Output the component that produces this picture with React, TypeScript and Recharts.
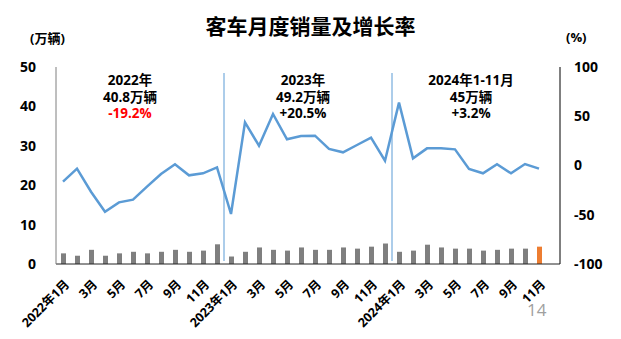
import React from 'react';
import { ComposedChart, Bar, Line, XAxis, YAxis, ReferenceLine, Cell } from 'recharts';

const months = [
  '2022年1月', '2022年2月', '2022年3月', '2022年4月', '2022年5月', '2022年6月',
  '2022年7月', '2022年8月', '2022年9月', '2022年10月', '2022年11月', '2022年12月',
  '2023年1月', '2023年2月', '2023年3月', '2023年4月', '2023年5月', '2023年6月',
  '2023年7月', '2023年8月', '2023年9月', '2023年10月', '2023年11月', '2023年12月',
  '2024年1月', '2024年2月', '2024年3月', '2024年4月', '2024年5月', '2024年6月',
  '2024年7月', '2024年8月', '2024年9月', '2024年10月', '2024年11月', '2024年12月',
];

// 月度销量（万辆）
const sales = [
  2.7, 2.1, 3.6, 2.1, 2.7, 3.1, 2.7, 3.1, 3.6, 3.1, 3.4, 5.0,
  1.9, 3.1, 4.2, 3.6, 3.4, 4.2, 3.6, 3.6, 4.2, 3.9, 4.4, 5.2,
  3.1, 3.4, 4.9, 4.2, 3.9, 3.9, 3.4, 3.6, 3.9, 3.9, 4.4, null,
];

// 同比增长率（%）
const growth = [
  -16.4, -3.2, -26.6, -46.9, -37.4, -34.7, -21.5, -8.6, 1.2, -10.0, -7.9, -1.9,
  -49.2, 43.8, 20.1, 52.3, 26.6, 29.9, 30.3, 16.8, 13.4, 20.8, 28.3, 4.9,
  63.8, 7.3, 17.4, 17.4, 16.4, -3.5, -7.9, 1.2, -7.9, 1.5, -3.2, null,
];

const leftTicks = [0, 10, 20, 30, 40, 50];
const rightTicks = [-100, -50, 0, 50, 100];
const yearStarts = ['2023年1月', '2024年1月'];

const annotations = [
  { x: 130, lines: ['2022年', '40.8万辆', '-19.2%'], red: true },
  { x: 303, lines: ['2023年', '49.2万辆', '+20.5%'], red: false },
  { x: 471, lines: ['2024年1-11月', '45万辆', '+3.2%'], red: false },
];

const data = months.map((m, i) => ({ month: m, sales: sales[i], growth: growth[i] }));

const font = "'Open Sans', 'Noto Sans CJK SC', sans-serif";
const gray = '#7f7f7f';
const orange = '#ed7d31';
const blue = '#5b9bd5';

const shortLabel = (m: string) => (m.endsWith('年1月') ? m : m.split('年')[1]);

const MonthTick = ({ x, y, payload }: any) => {
  const ax = x + 4;
  const ay = y + 10;
  return (
    <text
      x={ax}
      y={ay}
      dy="0.35em"
      textAnchor="end"
      transform={`rotate(-45, ${ax}, ${ay})`}
      fontSize={12.5}
      fontWeight="bold"
      fill="#000"
      fontFamily={font}
    >
      {shortLabel(payload.value)}
    </text>
  );
};

const SepLine = (p: any) => (
  <line x1={p.x1} y1={p.y1 - 3} x2={p.x2} y2={p.y2 + 6} stroke={blue} strokeWidth={1} />
);

export default function App() {
  return (
    <div style={{ position: 'relative', width: 621, height: 339, background: '#fff', fontFamily: font }}>
      <style>{'body{margin:0}'}</style>
      <div style={{ position: 'absolute', left: 0, width: 621, top: 10, textAlign: 'center', fontSize: 21, fontWeight: 'bold', color: '#000' }}>
        客车月度销量及增长率
      </div>
      <div style={{ position: 'absolute', left: 30, top: 28, fontSize: 13, fontWeight: 'bold' }}>(万辆)</div>
      <div style={{ position: 'absolute', left: 566, top: 28, fontSize: 13, fontWeight: 'bold' }}>(%)</div>
      <ComposedChart width={621} height={339} data={data} margin={{ top: 67, right: 0, bottom: 0, left: 0 }}>
        <XAxis
          dataKey="month"
          interval={1}
          height={75}
          tickLine={false}
          axisLine={{ stroke: '#222' }}
          tick={<MonthTick />}
        />
        <YAxis
          domain={[0, 50]}
          ticks={leftTicks}
          width={56}
          tickLine={false}
          tickSize={0}
          tickMargin={20}
          axisLine={{ stroke: gray }}
          tick={{ fontSize: 14, fontWeight: 'bold', fill: '#000', fontFamily: font }}
        />
        <YAxis
          yAxisId="r"
          orientation="right"
          domain={[-100, 100]}
          ticks={rightTicks}
          width={61}
          tickLine={false}
          tickSize={0}
          tickMargin={14}
          axisLine={{ stroke: '#000' }}
          tick={{ fontSize: 14, fontWeight: 'bold', fill: '#000', fontFamily: font, textAnchor: 'start' }}
        />
        {yearStarts.map((m) => (
          <ReferenceLine key={m} x={m} position="start" stroke={blue} shape={SepLine} />
        ))}
        <Bar dataKey="sales" barSize={5} isAnimationActive={false}>
          {data.map((d, i) => (
            <Cell key={i} fill={i === sales.length - 2 ? orange : gray} />
          ))}
        </Bar>
        <Line
          yAxisId="r"
          dataKey="growth"
          type="linear"
          stroke={blue}
          strokeWidth={2.5}
          dot={false}
          isAnimationActive={false}
        />
      </ComposedChart>
      {annotations.map((a) => (
        <div
          key={a.x}
          style={{
            position: 'absolute', left: a.x - 70, width: 140, top: 72, textAlign: 'center',
            fontSize: 13.5, fontWeight: 'bold', lineHeight: '16.5px', color: '#000',
          }}
        >
          <div>{a.lines[0]}</div>
          <div>{a.lines[1]}</div>
          <div style={{ color: a.red ? '#ff0000' : '#000' }}>{a.lines[2]}</div>
        </div>
      ))}
      <div style={{ position: 'absolute', left: 527, top: 298, fontSize: 17, color: '#a0a0a0' }}>14</div>
    </div>
  );
}
